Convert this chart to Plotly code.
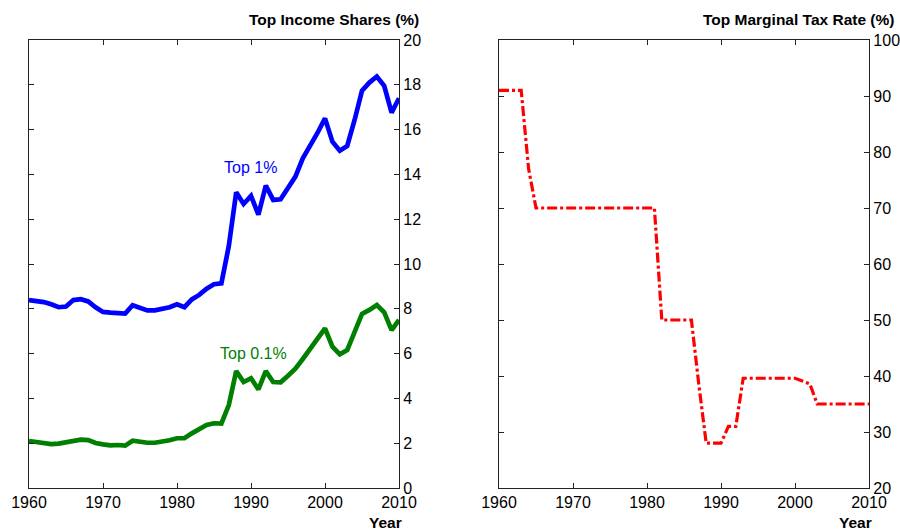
import plotly.graph_objects as go
from plotly.subplots import make_subplots

years = list(range(1960, 2011))

top1 = [8.39, 8.36, 8.30, 8.20, 8.07, 8.10, 8.39, 8.43, 8.33, 8.07,
        7.86, 7.83, 7.80, 7.79, 8.16, 8.05, 7.93, 7.93, 7.98, 8.07,
        8.20, 8.07, 8.42, 8.62, 8.90, 9.10, 9.14, 10.80, 13.20, 12.68,
        13.04, 12.20, 13.50, 12.86, 12.89, 13.38, 13.90, 14.72, 15.27, 15.86,
        16.50, 15.46, 15.06, 15.27, 16.43, 17.74, 18.10, 18.37, 17.95, 16.76,
        17.40]

top01 = [2.10, 2.05, 2.00, 1.96, 1.98, 2.05, 2.14, 2.16, 2.14, 2.01,
         1.95, 1.90, 1.92, 1.89, 2.11, 2.05, 2.02, 2.02, 2.05, 2.13,
         2.22, 2.22, 2.44, 2.60, 2.81, 2.89, 2.88, 3.70, 5.22, 4.73,
         4.90, 4.40, 5.22, 4.73, 4.72, 5.01, 5.33, 5.76, 6.19, 6.64,
         7.13, 6.31, 5.97, 6.16, 6.96, 7.77, 7.95, 8.17, 7.84, 7.05,
         7.50]

tax_rate = [91, 91, 91, 91, 77, 70, 70, 70, 70, 70,
            70, 70, 70, 70, 70, 70, 70, 70, 70, 70,
            70, 70, 50, 50, 50, 50, 50, 38.5, 28, 28,
            28, 31, 31, 39.6, 39.6, 39.6, 39.6, 39.6, 39.6, 39.6,
            39.6, 39.1, 38.6, 35, 35, 35, 35, 35, 35, 35,
            35]

x_ticks = [1960, 1970, 1980, 1990, 2000, 2010]
left_ticks = list(range(0, 21, 2))
right_ticks = list(range(20, 101, 10))

FONT = "Liberation Sans, Arial, sans-serif"

fig = make_subplots(rows=1, cols=2)

fig.add_trace(go.Scatter(x=years, y=top1, mode="lines",
                         line=dict(color="#0000ff", width=4.7),
                         showlegend=False), row=1, col=1)
fig.add_trace(go.Scatter(x=years, y=top01, mode="lines",
                         line=dict(color="#008000", width=4.7),
                         showlegend=False), row=1, col=1)
fig.add_trace(go.Scatter(x=years, y=tax_rate, mode="lines",
                         line=dict(color="#ff0000", width=3.2, dash="10px,3px,3px,3px"),
                         showlegend=False), row=1, col=2)

ydom = [1 - 488 / 531, 1 - 40 / 531]
axis_common = dict(showline=True, linecolor="#222222", linewidth=1.3, mirror="ticks",
                   ticks="inside", ticklen=5, tickcolor="#222222", showgrid=False,
                   zeroline=False, automargin=False,
                   tickfont=dict(family=FONT, size=16, color="black"))

fig.update_xaxes(range=[1960, 2010], tickvals=x_ticks, **axis_common)
fig.update_xaxes(domain=[29 / 900, 399 / 900], row=1, col=1)
fig.update_xaxes(domain=[499 / 900, 869 / 900], row=1, col=2)
fig.update_yaxes(side="right", domain=ydom, **axis_common)
fig.update_yaxes(range=[0, 20], tickvals=left_ticks, row=1, col=1)
fig.update_yaxes(range=[20, 100], tickvals=right_ticks, row=1, col=2)

ann = []
ann.append(dict(x=421 / 900, y=1 - 20 / 531, xref="paper", yref="paper",
                text="<b>Top Income Shares (%)</b>", showarrow=False,
                xanchor="right", yanchor="middle",
                font=dict(family=FONT, size=15.5, color="black")))
ann.append(dict(x=896 / 900, y=1 - 20 / 531, xref="paper", yref="paper",
                text="<b>Top Marginal Tax Rate (%)</b>", showarrow=False,
                xanchor="right", yanchor="middle",
                font=dict(family=FONT, size=15.5, color="black")))
ann.append(dict(x=404 / 900, y=1 - 522 / 531, xref="paper", yref="paper",
                text="<b>Year</b>", showarrow=False,
                xanchor="right", yanchor="middle",
                font=dict(family=FONT, size=15.5, color="black")))
ann.append(dict(x=874 / 900, y=1 - 522 / 531, xref="paper", yref="paper",
                text="<b>Year</b>", showarrow=False,
                xanchor="right", yanchor="middle",
                font=dict(family=FONT, size=15.5, color="black")))
ann.append(dict(x=1989.9, y=14.33, xref="x", yref="y",
                text="Top 1%", showarrow=False, xanchor="center", yanchor="middle",
                font=dict(family=FONT, size=16, color="#0000ff")))
ann.append(dict(x=1990.4, y=6.01, xref="x", yref="y",
                text="Top 0.1%", showarrow=False, xanchor="center", yanchor="middle",
                font=dict(family=FONT, size=16, color="#008000")))

fig.update_layout(width=900, height=531, margin=dict(l=0, r=0, t=0, b=0, autoexpand=False),
                  paper_bgcolor="white", plot_bgcolor="white",
                  annotations=ann, showlegend=False)

fig.write_html("out.html", config={"displayModeBar": False},
               post_script="document.body.style.margin='0px';document.body.style.overflow='hidden';")
